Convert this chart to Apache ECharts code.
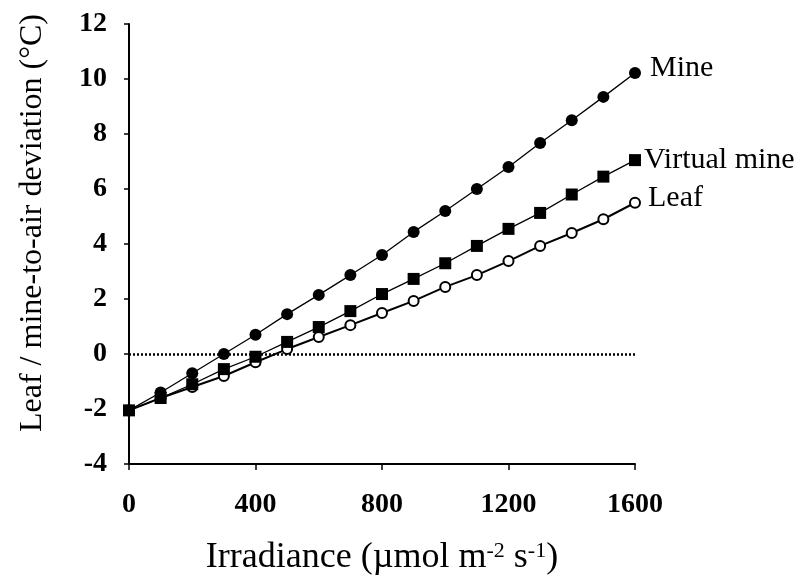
<!DOCTYPE html>
<html>
<head>
<meta charset="utf-8">
<script src="https://cdn.jsdelivr.net/npm/echarts@6/dist/echarts.min.js"></script>
<style>html,body{margin:0;padding:0;background:#fff;}#c{width:810px;height:577px;}</style>
</head>
<body>
<div id="c"></div>
<script>
const irradiance = [0,100,200,300,400,500,600,700,800,900,1000,1100,1200,1300,1400,1500,1600];
const mine =        [-2.05,-1.4,-0.7,0.0,0.7,1.45,2.15,2.87,3.6,4.44,5.2,6.0,6.8,7.67,8.5,9.35,10.22];
const virtualMine = [-2.05,-1.6,-1.1,-0.55,-0.1,0.44,0.98,1.56,2.18,2.73,3.3,3.93,4.55,5.13,5.8,6.45,7.05];
const leaf =        [-2.05,-1.6,-1.2,-0.8,-0.3,0.18,0.62,1.05,1.49,1.93,2.44,2.87,3.38,3.93,4.4,4.9,5.5];
const seriesNames = ['Mine','Virtual mine','Leaf'];
const yTicks = {min:-4, max:12, interval:2};
const xTicks = {min:0, max:1600, interval:400};

const FONT = '"Liberation Serif","Times New Roman",serif';

function build(vals, name, offset) {
  return vals.map((v, i) => {
    const d = {value: [irradiance[i], v]};
    if (i === vals.length - 1) {
      d.label = {show: true, position: 'right', formatter: name, offset: offset,
        fontFamily: FONT, fontSize: 30, color: '#000'};
    }
    return d;
  });
}

const chart = echarts.init(document.getElementById('c'), null, {renderer: 'canvas'});
chart.setOption({
  animation: false,
  backgroundColor: '#fff',
  grid: {left: 129, right: 175, top: 24, bottom: 113, containLabel: false, outerBoundsMode: 'none'},
  xAxis: {
    type: 'value', min: xTicks.min, max: xTicks.max, interval: xTicks.interval,
    name: 'Irradiance (\u00b5mol m{sup|-2} s{sup|-1})',
    nameLocation: 'middle', nameGap: 76,
    nameTextStyle: {fontFamily: FONT, fontSize: 36, color: '#000',
      rich: {sup: {fontFamily: FONT, fontSize: 22, verticalAlign: 'top', padding: [0,0,14,0], color:'#000'}}},
    axisLine: {onZero: false, lineStyle: {color: '#000', width: 2}},
    axisTick: {show: true, inside: false, length: 6, lineStyle: {color: '#000', width: 1.5}},
    axisLabel: {fontFamily: FONT, fontSize: 28, fontWeight: 'bold', color: '#000', margin: 27,
      formatter: v => String(v)},
    splitLine: {show: false}
  },
  yAxis: {
    type: 'value', min: yTicks.min, max: yTicks.max, interval: yTicks.interval,
    name: 'Leaf / mine-to-air deviation (\u00b0C)',
    nameLocation: 'middle', nameGap: 80, nameRotate: 90,
    nameTextStyle: {fontFamily: FONT, fontSize: 32, color: '#000', padding: [0,0,0,42]},
    axisLine: {show: true, lineStyle: {color: '#000', width: 2}},
    axisTick: {show: true, inside: false, length: 5, lineStyle: {color: '#000', width: 1.5}},
    axisLabel: {fontFamily: FONT, fontSize: 28, fontWeight: 'bold', color: '#000', margin: 22},
    splitLine: {show: false}
  },
  series: [
    {
      name: seriesNames[2], type: 'line', data: build(leaf, seriesNames[2], [2, -5]),
      symbol: 'circle', symbolSize: 10,
      itemStyle: {color: '#fff', borderColor: '#000', borderWidth: 2},
      lineStyle: {color: '#000', width: 2}, z: 2,
      markLine: {silent: true, symbol: ['none','none'], label: {show: false},
        lineStyle: {color: '#000', type: [2,2], width: 2.5},
        data: [{yAxis: 0}]}
    },
    {
      name: seriesNames[0], type: 'line', data: build(mine, seriesNames[0], [4, -5]),
      symbol: 'circle', symbolSize: 12,
      itemStyle: {color: '#000', borderColor: '#000', borderWidth: 0},
      lineStyle: {color: '#000', width: 1.3}, z: 3
    },
    {
      name: seriesNames[1], type: 'line', data: build(virtualMine, seriesNames[1], [-2, 0]),
      symbol: 'rect', symbolSize: 12,
      itemStyle: {color: '#000', borderColor: '#000', borderWidth: 0},
      lineStyle: {color: '#000', width: 1.3}, z: 4
    }
  ]
});
</script>
</body>
</html>
